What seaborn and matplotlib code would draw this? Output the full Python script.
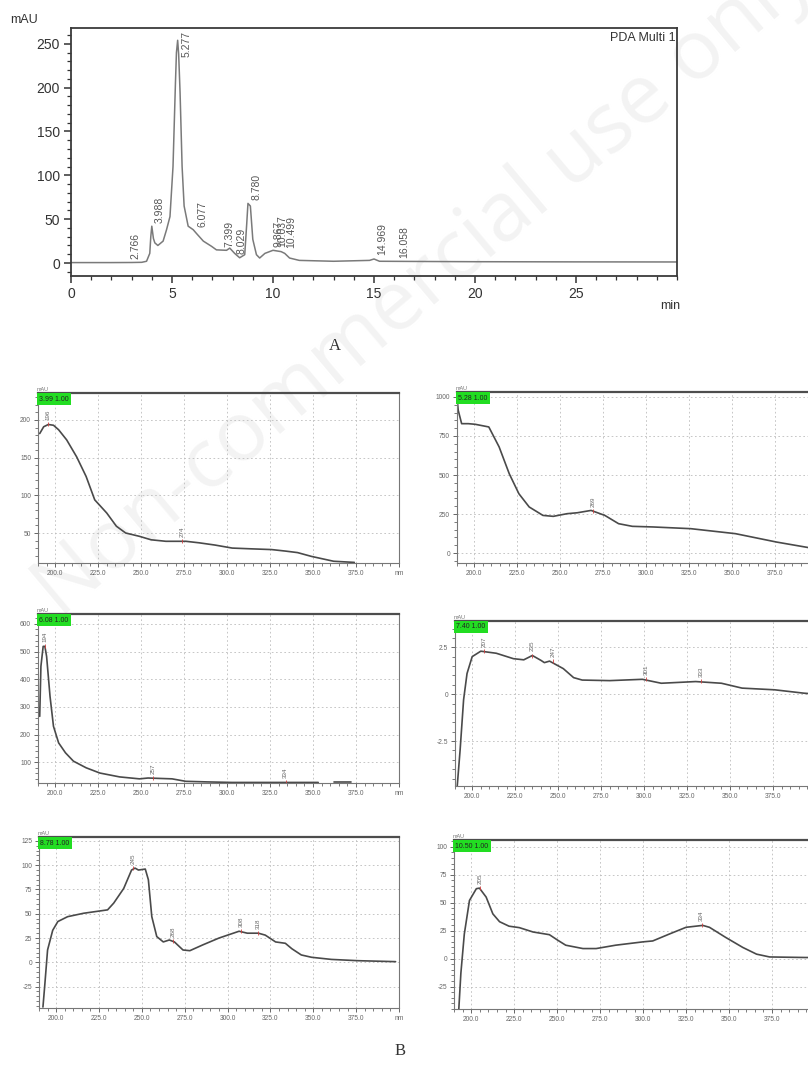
"""Chromatogram (A) and PDA spectra of the main peaks (B)."""

import matplotlib

matplotlib.use("Agg")
import matplotlib.pyplot as plt
from matplotlib.ticker import AutoMinorLocator, MultipleLocator
import seaborn as sns

W, H = 808, 1069

# --- A: chromatogram -------------------------------------------------------
CHROM_TIME = [0, 1, 2, 3, 3.5, 3.74, 3.9, 3.95, 4.0, 4.08, 4.15, 4.3, 4.56, 4.73,
              4.9, 5.05, 5.17, 5.22, 5.28, 5.33, 5.4, 5.5, 5.6, 5.8, 6.05, 6.2,
              6.55, 6.96, 7.2, 7.7, 7.86, 8.1, 8.35, 8.6, 8.7, 8.76, 8.88, 9.0,
              9.18, 9.34, 9.6, 10.0, 10.4, 10.58, 10.82, 11.3, 13, 14.78, 15.0,
              15.27, 17, 20, 25, 30]
CHROM_MAU = [0.5, 0.5, 0.5, 0.6, 0.8, 2, 11, 30, 42, 28, 23, 20, 25, 38,
             53, 110, 205, 240, 254, 238, 194, 110, 65, 42, 38, 34,
             25, 19, 15, 14.5, 17, 11, 6, 9.5, 45, 68, 65, 27,
             9.5, 5.7, 11, 14.5, 13, 11, 5.7, 3, 2, 3, 4.6,
             2, 1.8, 1.5, 1.3, 1.2]
PEAK_RT = [2.766, 3.988, 5.277, 6.077, 7.399, 8.029, 8.780, 9.867, 10.037,
           10.499, 14.969, 16.058]
PEAK_TEXT = ["2.766", "3.988", "5.277", "6.077", "7.399", "8.029", "8.780",
             "9.867", "10.037", "10.499", "14.969", "16.058"]
PEAK_MAU = [0.6, 42, 254, 37, 14, 6, 68, 14, 14, 13, 4.6, 1.8]

# --- B: spectra ------------------------------------------------------------
S1_TAG = "3.99 1.00"
S1_NM = [191, 193.3, 196, 199, 202, 206.7, 212.5, 218, 223, 230, 235.6, 241,
         249, 255.8, 264.4, 276, 283.7, 293, 303, 314, 326, 334, 341, 349,
         355, 362, 374]
S1_MAU = [182, 191, 194, 193, 187, 173.5, 151, 125, 94, 76.5, 59, 50,
          45.6, 41, 39, 39, 37, 34, 30, 29, 28, 26, 24, 19,
          16, 12.5, 11]
S1_PEAK_NM = [196, 274]
S1_PEAK_MAU = [194, 39]

S2_TAG = "5.28 1.00"
S2_NM = [190, 190.7, 192.7, 196.6, 200.6, 208.5, 214.5, 220.4, 226, 232, 240,
         246, 254, 260, 268, 276, 284, 292, 304, 326, 352, 376, 398]
S2_MAU = [1000, 915, 829, 829, 825, 808, 680, 508, 380, 295, 241,
          235, 252, 258, 273, 241, 188, 171, 167, 156, 124, 70, 28]
S2_PEAK_NM = [269]
S2_PEAK_MAU = [268]

S3_TAG = "6.08 1.00"
S3_NM = [191, 191.7, 193, 194, 195, 197, 199, 202, 206, 210.6, 218, 226,
         237.5, 249, 254, 258.6, 268, 276, 288, 303, 353]
S3_MAU = [266, 447, 519, 519, 483, 338, 230, 170, 134, 104, 80, 61,
          47, 40, 43, 42, 40, 31, 29, 27, 27]
S3_TAIL_NM = [362, 372]
S3_TAIL_MAU = [28, 28]
S3_PEAK_NM = [194, 257, 334]
S3_PEAK_MAU = [519, 43, 27]

S4_TAG = "7.40 1.00"
S4_NM = [191.3, 193, 195, 197, 200, 205, 214, 224, 230, 235, 240, 242, 245,
         253, 259, 264, 280, 299, 310, 330, 345, 357, 376, 393, 400]
S4_MAU = [-4.9, -2.95, -0.3, 1.1, 2.0, 2.29, 2.18, 1.89, 1.83, 2.06, 1.80,
          1.68, 1.76, 1.36, 0.88, 0.75, 0.72, 0.79, 0.58, 0.67, 0.58, 0.32,
          0.23, 0.05, 0.0]
S4_PEAK_NM = [207, 235, 247, 301, 333]
S4_PEAK_MAU = [2.29, 2.06, 1.76, 0.79, 0.68]

S5_TAG = "8.78 1.00"
S5_NM = [192.3, 193.3, 195, 198, 201, 206.7, 216, 230, 233.6, 239.4, 244, 246,
         248, 252, 253.8, 255.8, 258.7, 262.5, 266, 269, 274, 278, 285.6, 295,
         306.7, 311.5, 318, 322, 328, 333.7, 337.5, 343, 349, 360.6, 376, 398]
S5_MAU = [-46, -25, 12.7, 33, 42, 47, 50.5, 54, 61, 76, 95, 97,
          95, 96, 85, 47, 26.5, 21, 23, 21, 12.7, 12, 18, 25,
          32, 30, 30, 28, 21, 19.6, 14, 7.6, 5.2, 3, 1.7, 0.7]
S5_PEAK_NM = [245, 268, 308, 318]
S5_PEAK_MAU = [97, 22, 32, 30]

S6_TAG = "10.50 1.00"
S6_NM = [192.8, 194, 196, 199, 203, 204.8, 208.7, 212.6, 216.5, 222, 228, 236,
         245.5, 250.4, 255, 265, 272.7, 284, 300, 305.6, 315.3, 325, 334.7,
         338.6, 348, 358, 366, 373.6, 394.8, 400]
S6_MAU = [-45, -13, 22, 52, 62.5, 63, 55, 40, 33, 29, 27.7, 23.8,
          21.4, 16.4, 12, 9, 9, 12, 15, 15.8, 22, 28, 29.7,
          28, 19, 10, 4, 1.5, 1, 1]
S6_PEAK_NM = [205, 334]
S6_PEAK_MAU = [63, 30]

SANS = ["Liberation Sans", "DejaVu Sans"]


def px_axes(fig, left, top, right, bottom):
    """Add an axes given its box in figure pixels (origin top-left)."""
    return fig.add_axes([left / W, 1 - bottom / H, (right - left) / W,
                         (bottom - top) / H])


def draw_chromatogram(fig):
    ax = px_axes(fig, 71, 28, 677, 276)
    ax.set_facecolor("none")
    sns.lineplot(x=CHROM_TIME, y=CHROM_MAU, ax=ax, color="#7a7a7a", lw=1.1,
                 sort=False, estimator=None)
    ax.set_xlim(0, 30)
    ax.set_ylim(-14.8, 268)
    ax.set_xticks([0, 5, 10, 15, 20, 25])
    ax.xaxis.set_minor_locator(MultipleLocator(1))
    ax.yaxis.set_major_locator(MultipleLocator(50))
    ax.yaxis.set_minor_locator(MultipleLocator(10))
    ax.tick_params(which="major", direction="out", length=5, width=1.1,
                   labelsize=10, colors="#333333", pad=3)
    ax.tick_params(which="minor", direction="out", length=3, width=0.9,
                   colors="#333333")
    for spine in ax.spines.values():
        spine.set_color("#3a3a3a")
        spine.set_linewidth(1.3)
    ax.set_xlabel("")
    ax.set_ylabel("")

    for rt, txt, h in zip(PEAK_RT, PEAK_TEXT, PEAK_MAU):
        if h > 200:
            ax.text(rt + 0.44, h + 11, txt, rotation=90, ha="center", va="top",
                    fontsize=7.5, color="#555555")
        else:
            ax.text(rt + 0.42, h + 4, txt, rotation=90, ha="center",
                    va="bottom", fontsize=7.5, color="#555555")

    ax.text(0.997, 0.985, "PDA Multi 1", transform=ax.transAxes, ha="right",
            va="top", fontsize=9, color="#333333")
    fig.text(10 / W, 1 - 20 / H, "mAU", fontsize=9, color="#333333",
             va="center", ha="left")
    fig.text(680 / W, 1 - 306 / H, "min", fontsize=9, color="#333333",
             va="center", ha="right")
    fig.text(335 / W, 1 - 346 / H, "A", fontsize=12, color="#333333",
             va="center", ha="center", family=["Liberation Serif"])


def draw_spectrum(fig, box, nm, mau, peak_nm, peak_mau, tag, ylim, yticks,
                  ylabels, tail=None):
    ax = px_axes(fig, *box)
    ax.set_facecolor("none")
    sns.lineplot(x=nm, y=mau, ax=ax, color="#4a4a4a", lw=1.2, sort=False,
                 estimator=None)
    if tail is not None:
        sns.lineplot(x=tail[0], y=tail[1], ax=ax, color="#4a4a4a", lw=1.2,
                     sort=False, estimator=None)
    ax.set_xlim(190, 400)
    ax.set_ylim(*ylim)
    xt = [200, 225, 250, 275, 300, 325, 350, 375, 400]
    ax.set_xticks(xt)
    ax.set_xticklabels([f"{v:.1f}" for v in xt[:-1]] + ["nm"])
    ax.set_yticks(yticks)
    ax.set_yticklabels(ylabels)
    ax.xaxis.set_minor_locator(MultipleLocator(5))
    ax.yaxis.set_minor_locator(AutoMinorLocator(5))
    ax.tick_params(which="major", direction="out", length=3, width=0.7,
                   labelsize=4.8, colors="#666666", pad=2)
    ax.tick_params(which="minor", direction="out", length=2, width=0.6,
                   colors="#666666")
    ax.grid(True, which="major", color="#bdbdbd", lw=0.6, ls=(0, (2, 3)))
    for name, spine in ax.spines.items():
        spine.set_color("#777777")
        spine.set_linewidth(0.8)
    ax.spines["top"].set_color("#4d4d4d")
    ax.spines["top"].set_linewidth(1.6)
    ax.set_xlabel("")
    ax.set_ylabel("")

    span = ylim[1] - ylim[0]
    for x, y in zip(peak_nm, peak_mau):
        ax.plot([x], [y], marker="|", ms=3, color="#d04040", mew=0.6)
        ax.text(x, y + 0.025 * span, f"{x}", rotation=90, ha="center",
                va="bottom", fontsize=4.5, color="#666666")

    ax.text(0.004, 0.985, tag, transform=ax.transAxes, ha="left", va="top",
            fontsize=5, color="#222222",
            bbox=dict(boxstyle="square,pad=0.3", fc="#22dd22", ec="none"))
    ax.text(-0.004, 1.005, "mAU", transform=ax.transAxes, ha="left",
            va="bottom", fontsize=4, color="#777777")
    return ax


def main():
    sns.set_theme(style="ticks")
    plt.rcParams["font.family"] = SANS
    fig = plt.figure(figsize=(W / 100, H / 100), dpi=100)
    fig.patch.set_facecolor("white")

    # faint diagonal watermark, behind the (transparent) axes
    fig.text(425 / W, 1 - 285 / H, "Non-commercial use only", rotation=40,
             fontsize=60, color="#f3f3f3", ha="center", va="center",
             family=["Open Sans", "DejaVu Sans"], zorder=-1)

    draw_chromatogram(fig)

    draw_spectrum(fig, (38, 393, 399, 563), S1_NM, S1_MAU, S1_PEAK_NM,
                  S1_PEAK_MAU, S1_TAG, (10.2, 235.8), [50, 100, 150, 200],
                  ["50", "100", "150", "200"])
    draw_spectrum(fig, (457, 392, 818, 563), S2_NM, S2_MAU, S2_PEAK_NM,
                  S2_PEAK_MAU, S2_TAG, (-64, 1032), [0, 250, 500, 750, 1000],
                  ["0", "250", "500", "750", "1000"])
    draw_spectrum(fig, (38, 614, 399, 783), S3_NM, S3_MAU, S3_PEAK_NM,
                  S3_PEAK_MAU, S3_TAG, (25, 636), [100, 200, 300, 400, 500, 600],
                  ["100", "200", "300", "400", "500", "600"],
                  tail=(S3_TAIL_NM, S3_TAIL_MAU))
    draw_spectrum(fig, (455, 621, 816, 786), S4_NM, S4_MAU, S4_PEAK_NM,
                  S4_PEAK_MAU, S4_TAG, (-4.9, 3.9), [-2.5, 0, 2.5],
                  ["-2.5", "0", "2.5"])
    draw_spectrum(fig, (39, 837, 399, 1008), S5_NM, S5_MAU, S5_PEAK_NM,
                  S5_PEAK_MAU, S5_TAG, (-47, 129),
                  [-25, 0, 25, 50, 75, 100, 125],
                  ["-25", "0", "25", "50", "75", "100", "125"])
    draw_spectrum(fig, (454, 840, 815, 1009), S6_NM, S6_MAU, S6_PEAK_NM,
                  S6_PEAK_MAU, S6_TAG, (-45, 106), [-25, 0, 25, 50, 75, 100],
                  ["-25", "0", "25", "50", "75", "100"])

    fig.text(400 / W, 1 - 1051 / H, "B", fontsize=12, color="#333333",
             va="center", ha="center", family=["Liberation Serif"])

    fig.savefig("out.png", dpi=100, facecolor="white")
    plt.close(fig)


if __name__ == "__main__":
    main()
